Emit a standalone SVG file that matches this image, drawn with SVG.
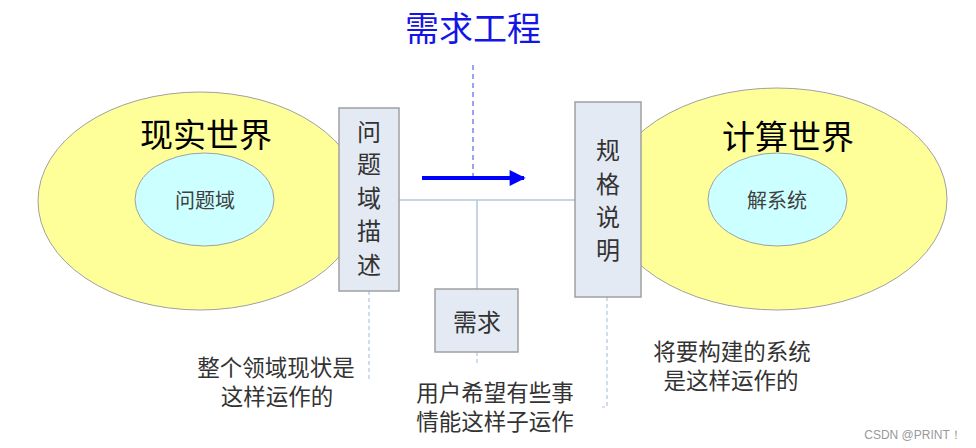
<svg xmlns="http://www.w3.org/2000/svg" width="976" height="448" viewBox="0 0 976 448">
<defs>
<style>
text{font-family:"Noto Sans CJK SC","Liberation Sans",sans-serif;text-anchor:middle;dominant-baseline:central}
.world{fill:#ffff99;stroke:#a0a0a0;stroke-width:1}
.inner{fill:#ccffff;stroke:#a0a0a0;stroke-width:1}
.box{fill:#e4eaf4;stroke:#a0a0a0;stroke-width:1.5}
.big{font-size:33px;fill:#000}
.mid{font-size:20px;fill:#404040}
.boxt{font-size:24px;fill:#333}
.note{font-size:22.5px;fill:#333}
.conn{stroke:#b4c6de;stroke-width:1.5;fill:none}
.dash{stroke:#b4c6de;stroke-width:1.2;fill:none;stroke-dasharray:4 3}
</style>
<marker id="ah" viewBox="0 0 10 10" refX="9" refY="5" markerWidth="4.2" markerHeight="4" orient="auto" markerUnits="strokeWidth">
<path d="M0,0 L10,5 L0,10 Z" fill="#0000ff"/>
</marker>
</defs>
<rect width="976" height="448" fill="#ffffff"/>

<g id="title">
<text x="473" y="26" style="font-size:34px;fill:#1414e6">需求工程</text>
</g>

<g id="connectors">
<line class="conn" x1="274" y1="199" x2="339" y2="199"/>
<line class="conn" x1="399" y1="200" x2="575" y2="200"/>
<line class="conn" x1="477" y1="200" x2="477" y2="289"/>
<line class="conn" x1="641" y1="199" x2="708" y2="199"/>
<line class="dash" x1="369" y1="291" x2="369" y2="380"/>
<line class="dash" x1="477" y1="352" x2="477" y2="366"/>
<polyline class="dash" points="607,297 607,407 602,407"/>
<line x1="473" y1="65" x2="473" y2="177" stroke="#8080f0" stroke-width="1.5" stroke-dasharray="5 4"/>
<line x1="422" y1="178" x2="524" y2="178" stroke="#0000ff" stroke-width="4" marker-end="url(#ah)"/>
</g>

<g id="real-world">
<ellipse class="world" cx="200" cy="201" rx="162" ry="109"/>
<text class="big" x="206" y="133">现实世界</text>
</g>
<g id="problem-domain">
<ellipse class="inner" cx="204.5" cy="199.5" rx="69.5" ry="46.5"/>
<text class="mid" x="205" y="199">问题域</text>
</g>

<g id="computing-world">
<ellipse class="world" cx="777" cy="199" rx="170" ry="111"/>
<text class="big" x="788" y="135">计算世界</text>
</g>
<g id="solution-system">
<ellipse class="inner" cx="777.5" cy="199.5" rx="69.5" ry="46.5"/>
<text class="mid" x="777" y="199">解系统</text>
</g>

<g id="domain-description">
<rect class="box" x="339" y="108" width="60" height="183"/>
<text class="boxt" x="369" y="130">问</text>
<text class="boxt" x="369" y="162">题</text>
<text class="boxt" x="369" y="196">域</text>
<text class="boxt" x="369" y="229">描</text>
<text class="boxt" x="369" y="263">述</text>
</g>

<g id="specification">
<rect class="box" x="575" y="102" width="66" height="195"/>
<text class="boxt" x="608" y="148">规</text>
<text class="boxt" x="608" y="182">格</text>
<text class="boxt" x="608" y="215">说</text>
<text class="boxt" x="608" y="248">明</text>
</g>

<g id="requirement">
<rect class="box" x="435" y="289" width="83" height="63"/>
<text class="boxt" x="477" y="320">需求</text>
</g>

<g id="notes">
<text class="note" x="276" y="366">整个领域现状是</text>
<text class="note" x="277" y="395">这样运作的</text>
<text class="note" x="495" y="391">用户希望有些事</text>
<text class="note" x="495" y="420">情能这样子运作</text>
<text class="note" x="732" y="350">将要构建的系统</text>
<text class="note" x="731" y="379">是这样运作的</text>
</g>

<g id="watermark">
<text x="913" y="435" style="font-size:12px;fill:#999;font-family:'Liberation Sans',sans-serif">CSDN @PRINT！</text>
</g>
</svg>
